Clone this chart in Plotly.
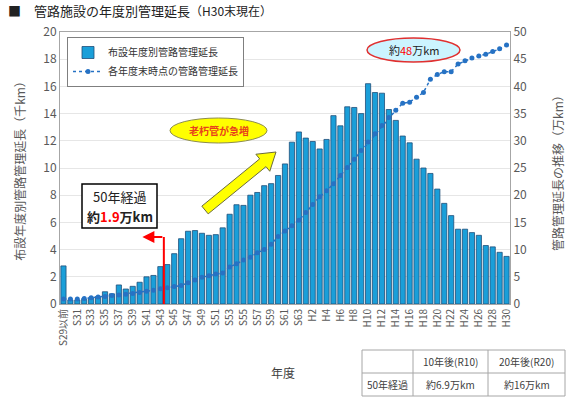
import plotly.graph_objects as go
import math

# ---------------- data ----------------
years = (["S29以前"] + [f"S{n}" for n in range(30, 64)] + ["H1"] + [f"H{n}" for n in range(2, 31)])

# 布設年度別管路管理延長 (千km)
annual_km = [2.8, 0.3, 0.3, 0.35, 0.45, 0.55, 0.9, 0.75, 1.4, 1.1,
             1.3, 1.6, 2.0, 2.1, 2.75, 2.9, 3.7, 4.8, 5.35, 5.4,
             5.2, 5.05, 5.1, 5.6, 6.6, 7.3, 7.25, 8.0, 8.2, 8.7,
             8.85, 9.45, 10.3, 11.9, 12.65, 12.2, 11.95, 11.4, 12.1, 13.85,
             13.1, 14.5, 14.45, 14.0, 16.2, 15.55, 15.5, 14.3, 13.5, 12.35,
             11.85, 10.65, 10.0, 9.6, 8.45, 7.4, 6.5, 5.5, 5.5, 5.25,
             5.05, 4.3, 4.2, 3.8, 3.5]

# 各年度末時点の管路管理延長 (万km)
cumulative_man_km = [0.9, 0.9, 0.9, 1.0, 1.15, 1.3, 1.4, 1.55, 1.65, 1.8,
                     1.95, 2.1, 2.35, 2.55, 2.8, 3.0, 3.2, 3.4, 3.9, 4.4,
                     4.9, 5.2, 5.5, 5.7, 6.8, 7.4, 8.1, 8.6, 9.4, 10.0,
                     11.0, 12.4, 13.4, 14.4, 15.4, 16.8, 18.3, 19.7, 20.8, 22.1,
                     23.6, 25.1, 26.6, 28.2, 29.8, 31.3, 32.8, 34.3, 35.6, 36.9,
                     37.1, 38.0, 38.9, 41.3, 42.2, 42.7, 42.7, 44.1, 44.7, 45.2,
                     45.6, 45.9, 46.4, 46.9, 47.6]

tick_labels = years[::2]

table_header = ["", "10年後(R10)", "20年後(R20)"]
table_row = ["50年経過", "約6.9万km", "約16万km"]

# ---------------- layout helpers ----------------
W, H = 571, 398
L, R, T, B = 60, 510, 32, 304
FONT = "Noto Sans CJK JP, Noto Sans, sans-serif"


def px(x):
    return (x - L) / (R - L)


def py(y):
    return (B - y) / (B - T)


fig = go.Figure()
fig.add_trace(go.Bar(
    x=years, y=annual_km, name="布設年度別管路管理延長",
    marker=dict(color="#1a9fd9", line=dict(color="#1f4e79", width=0.8)),
    yaxis="y",
))
fig.add_trace(go.Scatter(
    x=years, y=cumulative_man_km, name="各年度末時点の管路管理延長",
    mode="lines+markers",
    line=dict(color="#2672c4", width=1.5, dash="dot"),
    marker=dict(color="#2672c4", size=5),
    yaxis="y2",
))

shapes = []
annotations = []

# yellow ellipse
shapes.append(dict(type="circle", xref="paper", yref="paper",
                   x0=px(170), x1=px(267), y0=py(143), y1=py(118),
                   fillcolor="#ffff00", line=dict(color="#8c8c4a", width=1)))
annotations.append(dict(xref="paper", yref="paper", x=px(218.5), y=py(130.5),
                        xanchor="center", yanchor="middle",
                        text="<b>老朽管が急増</b>", showarrow=False,
                        font=dict(size=10, color="#e8401c", family=FONT)))

# yellow block arrow
tx, ty = 205, 210
hx, hy = 276, 152
dx, dy = hx - tx, hy - ty
ln = math.hypot(dx, dy)
ux, uy = dx / ln, dy / ln
nx, ny = -uy, ux
sw, hw, hl = 5, 11, 17
nkx, nky = hx - hl * ux, hy - hl * uy
pts = [(tx + sw * nx, ty + sw * ny), (nkx + sw * nx, nky + sw * ny),
       (nkx + hw * nx, nky + hw * ny), (hx, hy),
       (nkx - hw * nx, nky - hw * ny), (nkx - sw * nx, nky - sw * ny),
       (tx - sw * nx, ty - sw * ny)]
path = "M " + " L ".join(f"{px(a):.5f},{py(b):.5f}" for a, b in pts) + " Z"
shapes.append(dict(type="path", xref="paper", yref="paper", path=path,
                   fillcolor="#ffff00", line=dict(color="#6b6b3a", width=1)))

# 50年経過 box
shapes.append(dict(type="rect", xref="paper", yref="paper",
                   x0=px(82), x1=px(157), y0=py(228), y1=py(184),
                   fillcolor="#ffffff", line=dict(color="#000000", width=1.5)))
annotations.append(dict(xref="paper", yref="paper", x=px(119.5), y=py(196),
                        xanchor="center", yanchor="middle", text="50年経過",
                        showarrow=False, font=dict(size=13, color="#222222", family=FONT)))
annotations.append(dict(xref="paper", yref="paper", x=px(119.5), y=py(216),
                        xanchor="center", yanchor="middle",
                        text="<b>約<span style='color:#ff0000'>1.9</span>万km</b>",
                        showarrow=False, font=dict(size=13, color="#222222", family=FONT)))

# red arrow (vertical + horizontal with head)
red_y = (B - 237) / (B - T) * 20
shapes.append(dict(type="line", xref="x", yref="y", x0=14.5, x1=14.5, y0=0, y1=red_y,
                   line=dict(color="#ff0000", width=2)))
annotations.append(dict(xref="x", yref="y", axref="x", ayref="y",
                        x=11.4, y=red_y, ax=14.5, ay=red_y, text="",
                        showarrow=True, arrowhead=2, arrowsize=1.2, arrowwidth=2,
                        arrowcolor="#ff0000"))

# 約48万km ellipse
shapes.append(dict(type="circle", xref="paper", yref="paper",
                   x0=px(367), x1=px(460), y0=py(62), y1=py(38),
                   fillcolor="#ccf4ff", line=dict(color="#e03030", width=1.5)))
annotations.append(dict(xref="paper", yref="paper", x=px(413.5), y=py(50),
                        xanchor="center", yanchor="middle",
                        text="約<span style='color:#ff0000'>48</span>万km", showarrow=False,
                        font=dict(size=11, color="#222222", family=FONT)))

# table grid
cols = [362, 413, 488, 565]
rows = [350, 373, 396]
grid = dict(color="#a6a6a6", width=1)
for r in rows:
    shapes.append(dict(type="line", xref="paper", yref="paper",
                       x0=px(cols[0]), x1=px(cols[-1]), y0=py(r), y1=py(r), line=grid))
for c in cols:
    shapes.append(dict(type="line", xref="paper", yref="paper",
                       x0=px(c), x1=px(c), y0=py(rows[0]), y1=py(rows[-1]), line=grid))
for i in range(3):
    cx = (cols[i] + cols[i + 1]) / 2
    for j, txt in enumerate([table_header[i], table_row[i]]):
        if txt:
            annotations.append(dict(xref="paper", yref="paper", x=px(cx),
                                    y=py((rows[j] + rows[j + 1]) / 2), text=txt,
                                    xanchor="center", yanchor="middle",
                                    showarrow=False,
                                    font=dict(size=10, color="#404040", family=FONT)))

# title
annotations.append(dict(xref="paper", yref="paper", x=px(6), y=py(10),
                        xanchor="left", yanchor="middle",
                        text="■　管路施設の年度別管理延長<span style='font-size:12px'>（H30末現在）</span>",
                        showarrow=False, font=dict(size=13, color="#222222", family=FONT)))

# x axis title
annotations.append(dict(xref="paper", yref="paper", x=px(283), y=py(372),
                        xanchor="center", yanchor="middle", text="年度", showarrow=False,
                        font=dict(size=12, color="#404040", family=FONT)))

# right axis title
annotations.append(dict(xref="paper", yref="paper", x=px(557), y=py(170),
                        xanchor="center", yanchor="middle", textangle=-90,
                        text="管路管理延長の推移（万km）", showarrow=False,
                        font=dict(size=12, color="#595959", family=FONT)))

fig.update_layout(
    width=W, height=H,
    margin=dict(l=L, r=W - R, t=T, b=H - B, autoexpand=False),
    paper_bgcolor="white", plot_bgcolor="white",
    font=dict(family=FONT, color="#595959", size=11),
    bargap=0.25,
    showlegend=True,
    legend=dict(x=px(67), y=py(37), xanchor="left", yanchor="top",
                bgcolor="white", bordercolor="#7f7f7f", borderwidth=1,
                font=dict(size=10, color="#333333"), tracegroupgap=0,
                itemwidth=30),
    xaxis=dict(type="category", range=[-0.5, len(years) - 0.5],
               tickmode="array", tickvals=tick_labels, ticktext=tick_labels,
               tickangle=-90, tickfont=dict(size=10, color="#595959"),
               showline=True, linecolor="#a6a6a6", mirror=True, ticks="",
               automargin=False),
    yaxis=dict(range=[0, 20], dtick=2, showgrid=True, gridcolor="#e6e6e6",
               tickfont=dict(size=12, color="#595959"), zeroline=False,
               showline=True, linecolor="#a6a6a6", automargin=False,
               title=dict(text="布設年度別管路管理延長（千km）",
                          font=dict(size=12, color="#595959"))),
    yaxis2=dict(range=[0, 50], dtick=5, overlaying="y", side="right",
                showgrid=False, zeroline=False, showline=True, linecolor="#a6a6a6",
                tickfont=dict(size=12, color="#595959"), automargin=False),
    shapes=shapes, annotations=annotations,
)

fig.write_html("out.html", config={"displayModeBar": False},
               post_script="document.body.style.margin='0';document.body.style.overflow='hidden';")
